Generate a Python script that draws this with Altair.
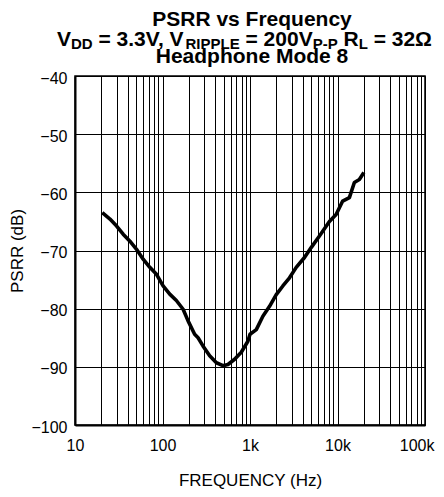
import altair as alt
import pandas as pd

# ---- data ----
freq_hz = [20.5, 25.1, 29.9, 35.5, 42.4, 50.5, 60.1, 71.6, 85.4, 101.6, 121, 144,
           172, 196, 233, 255, 290, 346, 413, 491, 560, 667, 795, 946, 1000,
           1180, 1403, 1673, 1995, 2373, 2828, 3373, 4194, 5000, 6218, 8083,
           9640, 11460, 13670, 15580, 17780, 20000]
psrr_db = [-63.5, -64.6, -65.8, -67.2, -68.4, -69.8, -71.5, -72.9, -74.1, -76.1,
           -77.5, -78.6, -80.1, -82.1, -84.4, -85.0, -86.4, -88.1, -89.3, -89.8,
           -89.6, -88.7, -87.5, -85.6, -84.4, -83.6, -81.3, -79.6, -77.6, -76.1,
           -74.7, -72.9, -71.2, -69.5, -67.5, -65.0, -63.8, -61.5, -60.9, -58.3,
           -57.8, -56.6]

x_decades = [10, 100, 1000, 10000, 100000]
x_decade_labels = ["10", "100", "1k", "10k", "100k"]
y_ticks = [-100, -90, -80, -70, -60, -50, -40]

title_line1 = "PSRR vs Frequency"
title_line3 = "Headphone Mode 8"
# (text, is_subscript)
title_line2 = [("V", False), ("DD", True), (" = 3.3V, V", False), ("RIPPLE", True),
               (" = 200V", False), ("P-P", True), (" R", False), ("L", True),
               (" = 32\u03a9", False)]

x_title = "FREQUENCY (Hz)"
y_title = "PSRR (dB)"

# ---- layout ----
W, H = 350, 349
FONT = "Liberation Sans"
M_SIZE, S_SIZE = 21, 15

# x grid at 1..9 x each decade
x_grid = []
for d in x_decades[:-1]:
    for k in range(1, 10):
        x_grid.append(d * k)
x_grid.append(x_decades[-1])

label_expr = " : ".join(
    f"datum.value == {v} ? '{t}'" for v, t in zip(x_decades, x_decade_labels)
) + " : ''"

df = pd.DataFrame({"freq": freq_hz, "psrr": psrr_db})

curve = alt.Chart(df).mark_line(color="black", strokeWidth=3.6, strokeJoin="round").encode(
    x=alt.X("freq:Q",
            scale=alt.Scale(type="log", domain=[10, 100000], nice=False),
            axis=alt.Axis(values=x_grid, labelExpr=label_expr, labelOverlap=False,
                          labelFlush=True, labelFlushOffset=9, ticks=False,
                          labelPadding=12.5, labelFontSize=16, title=x_title,
                          titleFontSize=17, titleX=W / 2, titleY=60.5,
                          titleBaseline="alphabetic", titleAlign="center",
                          titleAnchor="middle")),
    y=alt.Y("psrr:Q",
            scale=alt.Scale(domain=[-100, -40], nice=False),
            axis=alt.Axis(values=y_ticks, ticks=False, labelPadding=8,
                          labelFontSize=16, labelOffset=2, title=y_title,
                          titleFontSize=17, titleAngle=-90, titleX=-52.5,
                          titleY=H / 2, titleBaseline="alphabetic",
                          titleAlign="center", titleAnchor="middle")),
)

# char advance widths (Arial/Liberation Sans Bold, per 1000 em)
cw = {" ": 278, "V": 667, "D": 722, "=": 584, "3": 556, ".": 278,
      ",": 278, "R": 722, "I": 278, "P": 667, "L": 611, "E": 667, "2": 556,
      "0": 556, "-": 333, "\u03a9": 768}


def text_w(s, size):
    return sum(cw.get(c, 600) for c in s) * size / 1000.0


def txt(s, x, y, size, align="center"):
    return alt.Chart(pd.DataFrame({"t": [s]})).mark_text(
        font=FONT, fontWeight="bold", fontSize=size, color="black",
        align=align, baseline="alphabetic"
    ).encode(text="t:N", x=alt.value(x), y=alt.value(y))


layers = [curve]
cx = 177
layers.append(txt(title_line1, cx, -50.3, M_SIZE))
layers.append(txt(title_line3, cx, -12.6, M_SIZE))

pos = 57 - 75  # start of line 2 relative to plot left
for s, sub in title_line2:
    size = S_SIZE if sub else M_SIZE
    lead = len(s) - len(s.lstrip(" "))
    pos += text_w(" " * lead, size)          # leading spaces as an offset
    body = s.lstrip(" ")
    y = -26.8 if sub else -30.4
    layers.append(txt(body, pos, y, size, align="left"))
    pos += text_w(body, size)

chart = alt.layer(*layers).properties(
    width=W, height=H,
    autosize=alt.AutoSizeParams(type="none"),
    padding={"left": 67, "top": 68, "right": 11, "bottom": 64},
).configure_view(
    stroke="black", strokeWidth=1.5
).configure_axis(
    domainColor="black", domainWidth=2, gridColor="black", gridWidth=1,
    gridOpacity=1, labelFont=FONT, labelColor="black", titleFont=FONT,
    titleColor="black", titleFontWeight="normal"
)

chart.save("out.html", embed_options={"renderer": "svg", "actions": False})
